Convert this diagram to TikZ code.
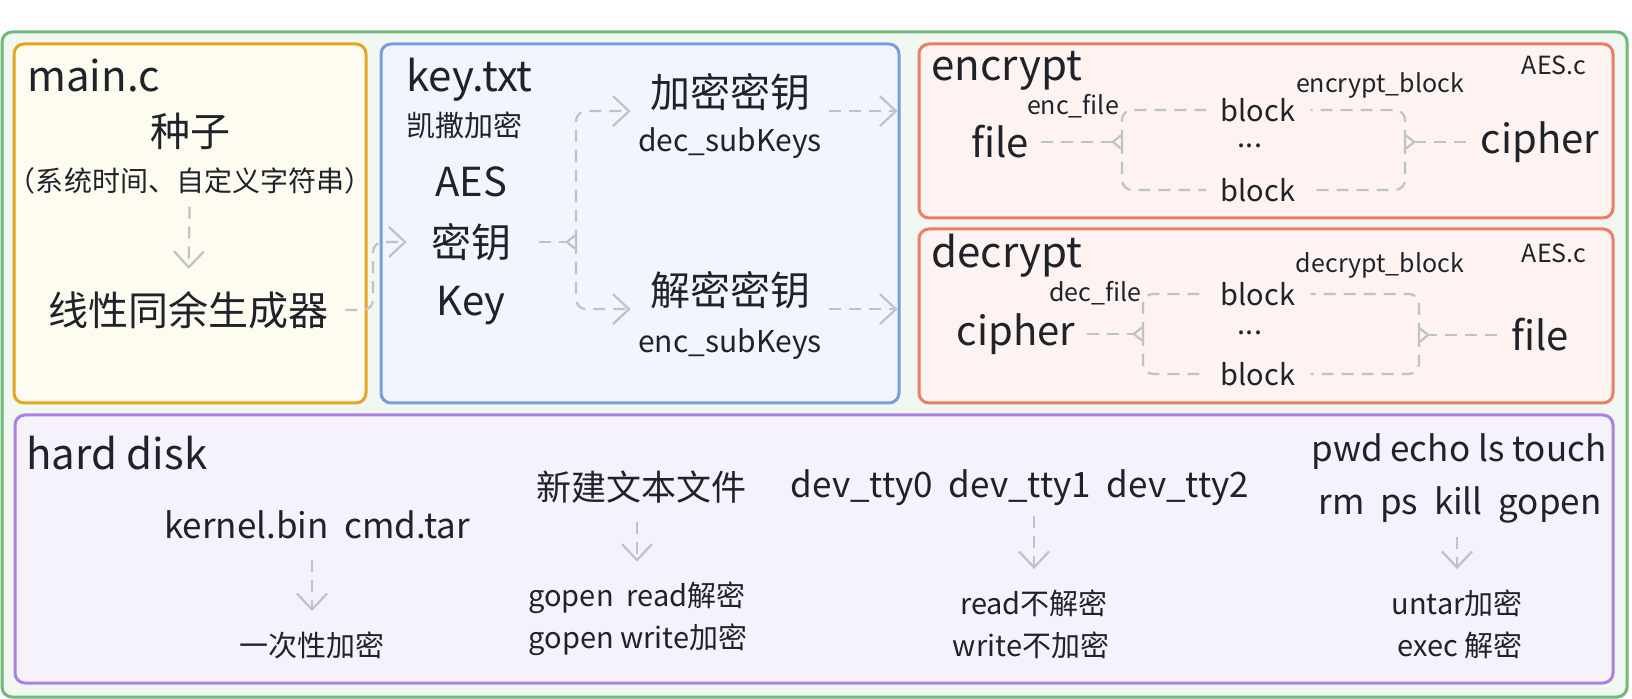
\documentclass[tikz,border=0pt]{standalone}
\usepackage{fontspec}
\setmainfont{Noto Sans CJK SC}
\usepackage{xcolor}
\usetikzlibrary{arrows.meta,fit,positioning}

\definecolor{ink}{HTML}{1F2329}
\definecolor{linkgray}{HTML}{BEC3C8}
\definecolor{greenline}{HTML}{70B978}
\definecolor{greenfill}{HTML}{F1F8F2}
\definecolor{orangeline}{HTML}{E8A420}
\definecolor{orangefill}{HTML}{FEFCF0}
\definecolor{blueline}{HTML}{789BE1}
\definecolor{bluefill}{HTML}{F1F5FD}
\definecolor{redline}{HTML}{EE7D64}
\definecolor{redfill}{HTML}{FEF3F0}
\definecolor{purpleline}{HTML}{AA82E1}
\definecolor{purplefill}{HTML}{F5F2FC}

\newcommand\fsTitle{\fontsize{21pt}{25pt}\selectfont}
\newcommand\fsBig{\fontsize{20pt}{24pt}\selectfont}
\newcommand\fsMid{\fontsize{17.5pt}{21pt}\selectfont}
\newcommand\fsSub{\fontsize{15pt}{18pt}\selectfont}
\newcommand\fsSmall{\fontsize{14.5pt}{17pt}\selectfont}
\newcommand\fsNote{\fontsize{14pt}{17pt}\selectfont}
\newcommand\fsTiny{\fontsize{12.5pt}{15pt}\selectfont}

\begin{document}
\begin{tikzpicture}
  [x=0.5pt,y=-0.5pt,every node/.style={text=ink,inner sep=0pt},
   panel/.style={rounded corners=5pt,line width=1.5pt},
   link/.style={draw=linkgray,line width=1.1pt,dash pattern=on 6pt off 4pt},
   bigtip/.style={-{Straight Barb[length=8pt,width=15pt]}},
   joint/.style={-{Straight Barb[length=4pt,width=6.5pt,reversed]}}]
  \useasboundingbox (0,0) rectangle (1632,699);

  \node[panel,draw=greenline,fill=greenfill,fit={(2,32) (1627,697)}] (frame) {};
  \node[panel,draw=orangeline,fill=orangefill,fit={(14,44) (366,403)}] (mainbox) {};
  \node[panel,draw=blueline,fill=bluefill,fit={(381,44) (899,403)}] (keybox) {};
  \node[panel,draw=redline,fill=redfill,fit={(919,44) (1613,218)}] (encbox) {};
  \node[panel,draw=redline,fill=redfill,fit={(919,229) (1613,403)}] (decbox) {};
  \node[panel,draw=purpleline,fill=purplefill,fit={(15,415) (1613,683)}] (diskbox) {};

  \node[anchor=west,font=\fsTitle] (mainttl) at (27,76) {main.c};
  \node[font=\fsBig] (seed) at (190,131) {种子};
  \node[font=\fsNote] (seedsrc) at (190,181) {（系统时间、自定义字符串）};
  \node[font=\fsBig] (lcg) at (188,310) {线性同余生成器};
  \coordinate (lbar) at (373,310);

  \node[anchor=west,font=\fsTitle] (keyttl) at (406,80) {key.txt};
  \node[anchor=west,font=\fsSmall] (caesar) at (406,125) {凯撒加密};
  \node[font=\fsBig] (aes) at (471,182) {AES};
  \node[font=\fsBig] (key) at (471,242) {密钥};
  \node[font=\fsBig] (keyen) at (471,306) {Key};
  \node[font=\fsBig] (enckey) at (730,92) {加密密钥};
  \node[font=\fsSub] (encsub) at (730,143) {dec\_subKeys};
  \node[font=\fsBig] (deckey) at (730,290) {解密密钥};
  \node[font=\fsSub] (decsub) at (730,344) {enc\_subKeys};
  \coordinate (ksplit) at (576,242);

  \node[anchor=west,font=\fsTitle] (encttl) at (931,71) {encrypt};
  \node[font=\fsTiny] (encsrc) at (1554,65) {AES.c};
  \node[font=\fsTiny] (encfn) at (1380,85) {encrypt\_block};
  \node[font=\fsTiny] (encfile) at (1073,106) {enc\_file};
  \node[font=\fsBig] (eplain) at (1000,142) {file};
  \node[font=\fsSmall] (eblka) at (1258,110) {block};
  \node[font=\fsSmall] (edots) at (1250,146) {...};
  \node[font=\fsSmall] (eblkb) at (1258,190) {block};
  \node[font=\fsBig] (ecipher) at (1540,142) {cipher};
  \coordinate (ejl) at (1122,142);
  \coordinate (ejr) at (1405,142);

  \node[anchor=west,font=\fsTitle] (decttl) at (931,256) {decrypt};
  \node[font=\fsTiny] (decsrc) at (1554,253) {AES.c};
  \node[font=\fsTiny] (decfn) at (1380,265) {decrypt\_block};
  \node[font=\fsTiny] (decfile) at (1095,293) {dec\_file};
  \node[font=\fsBig] (dcipher) at (1016,334) {cipher};
  \node[font=\fsSmall] (dblka) at (1258,294) {block};
  \node[font=\fsSmall] (ddots) at (1250,333) {...};
  \node[font=\fsSmall] (dblkb) at (1258,374) {block};
  \node[font=\fsBig] (dplain) at (1540,335) {file};
  \coordinate (djl) at (1143,334);
  \coordinate (djr) at (1419,335);

  \node[anchor=west,font=\fsTitle] (diskttl) at (26,453) {hard disk};
  \node[font=\fsMid] (boot) at (317,525) {kernel.bin\ \ cmd.tar};
  \node[font=\fsSmall] (once) at (312,645) {一次性加密};
  \node[font=\fsMid] (newtxt) at (641,487) {新建文本文件};
  \node[font=\fsSmall] (gread) at (637,598) {gopen\ \ read解密};
  \node[font=\fsSmall] (gwrite) at (638,640) {gopen write加密};
  \node[font=\fsMid] (ttys) at (1020,488) {dev\_tty0\ \ dev\_tty1\ \ dev\_tty2};
  \node[font=\fsSmall] (tread) at (1034,603) {read不解密};
  \node[font=\fsSmall] (twrite) at (1031,645) {write不加密};
  \node[font=\fsMid] (cmdsa) at (1459,452) {pwd echo ls touch};
  \node[font=\fsMid] (cmdsb) at (1460,505) {rm\ \ ps\ \ kill\ \ gopen};
  \node[font=\fsSmall] (untar) at (1457,603) {untar加密};
  \node[font=\fsSmall] (exec) at (1460,645) {exec 解密};

  \draw[link,bigtip,shorten <=6pt,shorten >=11pt] (seedsrc) -- (lcg);
  \draw[link,bigtip,rounded corners=5pt,shorten <=8.5pt,shorten >=12pt] (lcg.east) -- (lbar) |- (key.west);

  \draw[link,joint,shorten <=14pt] (key.east) -- (ksplit);
  \foreach \to in {enckey,deckey}
    \draw[link,bigtip,rounded corners=5pt,shorten >=9.5pt] (ksplit) |- (\to.south west);
  \draw[link,bigtip,shorten <=9.5pt,shorten >=10pt] (enckey.south east) -- (enckey.south east -| encbox.west);
  \draw[link,bigtip,shorten <=9.5pt,shorten >=10pt] (deckey.south east) -- (deckey.south east -| decbox.west);

  \draw[link,joint,shorten <=6pt] (eplain.east) -- (ejl);
  \draw[link,joint,shorten <=7.5pt] (ecipher.west) -- (ejr);
  \draw[link,joint,shorten <=6pt] (dcipher.east) -- (djl);
  \draw[link,joint,shorten <=7pt] (dplain.west) -- (djr);
  \foreach \from/\to in {ejl/eblka,ejl/eblkb,djl/dblka,djl/dblkb}
    \draw[link,rounded corners=5pt,shorten >=7pt] (\from) |- (\to.west);
  \foreach \from/\to in {ejr/eblka,ejr/eblkb,djr/dblka,djr/dblkb}
    \draw[link,rounded corners=5pt,shorten >=7.5pt] (\from) |- (\to.east);

  \foreach \from/\to/\gap in {boot/once/10pt,newtxt/gread/9pt,ttys/tread/5pt,cmdsb/untar/6.5pt}
    \draw[link,bigtip,shorten <=\gap,shorten >=10pt] (\to.north |- \from.south) -- (\to.north);
\end{tikzpicture}
\end{document}
